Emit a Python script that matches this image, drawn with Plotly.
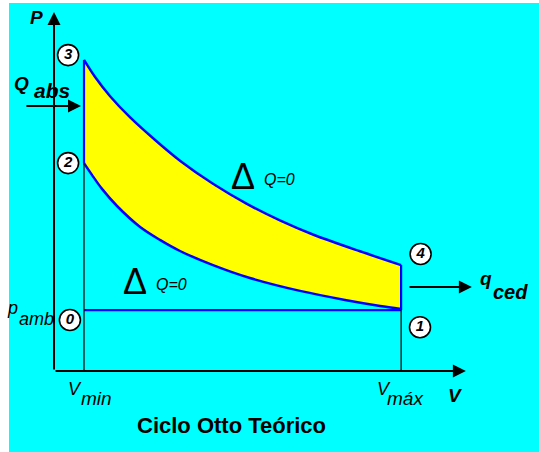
import plotly.graph_objects as go

# ---- data (V in units of V_min, P in arbitrary units) ----
V_upper = [1.00, 1.37, 1.87, 2.53, 3.37, 4.20, 5.30, 6.43, 7.53, 8.63, 10.20, 11.57]
P_upper = [10.37, 9.80, 9.16, 8.46, 7.70, 7.01, 6.24, 5.57, 5.02, 4.55, 3.99, 3.53]
V_lower = [1.00, 1.27, 1.60, 2.10, 2.87, 3.53, 4.20, 5.30, 6.53, 8.20, 9.70, 10.87, 11.57]
P_lower = [6.93, 6.53, 6.07, 5.50, 4.80, 4.37, 4.00, 3.53, 3.10, 2.67, 2.37, 2.17, 2.07]
P_amb = 2.03
point_labels = ["3", "2", "0", "4", "1"]
title_text = "Ciclo Otto Teórico"

V_min, V_max = V_lower[0], V_lower[-1]
P3, P2, P4 = P_upper[0], P_lower[0], P_upper[-1]

BLUE = "#0000ff"
FONT = "Liberation Sans, Arial, sans-serif"

fig = go.Figure()

# lower adiabat (compression 1-2)
fig.add_trace(go.Scatter(x=V_lower, y=P_lower, mode="lines",
                         line=dict(color=BLUE, width=2.5, shape="spline", smoothing=0.9),
                         hoverinfo="skip"))
# upper adiabat (expansion 3-4) with yellow area to lower
fig.add_trace(go.Scatter(x=V_upper, y=P_upper, mode="lines", fill="tonexty",
                         fillcolor="#ffff00",
                         line=dict(color=BLUE, width=2.5, shape="spline", smoothing=0.9),
                         hoverinfo="skip"))
# isochores and admission line
fig.add_trace(go.Scatter(x=[V_min, V_min, None, V_max, V_max, None, V_min, V_max],
                         y=[P2, P3, None, P_amb, P4, None, P_amb, P_amb],
                         mode="lines", line=dict(color=BLUE, width=2.2), hoverinfo="skip"))
# thin black guide lines down to V axis
fig.add_trace(go.Scatter(x=[V_min, V_min, None, V_max, V_max],
                         y=[0, P2, None, 0, P_amb],
                         mode="lines", line=dict(color="black", width=1.2), hoverinfo="skip"))

# numbered state circles
circ_x = [V_min - 0.53, V_min - 0.53, V_min - 0.47, V_max + 0.65, V_max + 0.63]
circ_y = [P3 + 0.16, P2, P_amb - 0.33, P4 + 0.37, P_amb - 0.57]
fig.add_trace(go.Scatter(x=circ_x, y=circ_y, mode="markers+text", text=point_labels,
                         textposition="middle center",
                         textfont=dict(family=FONT, size=15, color="black",
                                       style="italic", weight="bold"),
                         marker=dict(size=21, color="white", line=dict(color="black", width=1.6)),
                         hoverinfo="skip"))

ann = []
def arrow(x, y, ax, ay):
    ann.append(dict(x=x, y=y, ax=ax, ay=ay, xref="x", yref="y", axref="x", ayref="y",
                    text="", showarrow=True, arrowhead=2, arrowsize=1.3, arrowwidth=2,
                    arrowcolor="black"))

def label(x, y, t, size, bold=False, italic=True):
    ann.append(dict(x=x, y=y, xref="x", yref="y", text=t, showarrow=False,
                    xanchor="center", yanchor="middle", borderpad=0,
                    font=dict(family=FONT, size=size, color="black",
                              weight="bold" if bold else "normal",
                              style="italic" if italic else "normal")))

# axes
arrow(0, 11.97, 0, 0)
arrow(13.73, 0, 0, 0)
# heat arrows
arrow(0.9, 8.83, -0.97, 8.83)
arrow(13.93, 2.8, 11.8, 2.8)

# axis titles
label(-0.6, 11.8, "P", 19, bold=True)
label(13.37, -0.8, "V", 19, bold=True)
# heat labels
label(-1.07, 9.6, "Q", 19, bold=True)
label(-0.07, 9.35, "abs", 21, bold=True)
label(14.4, 3.07, "q", 19, bold=True)
label(15.2, 2.65, "ced", 20, bold=True)
# p_amb
label(-1.4, 2.1, "p", 18)
label(-0.58, 1.72, "amb", 18)
# volumes
label(V_min - 0.3, -0.6, "V", 18)
label(V_min + 0.4, -0.92, "min", 19)
label(V_max - 0.57, -0.6, "V", 18)
label(V_max + 0.13, -0.92, "máx", 19)
# adiabatic markers
label(6.3, 6.5, "Δ", 36, bold=False, italic=False)
label(7.53, 6.37, "Q=0", 16)
label(2.7, 3.0, "Δ", 36, bold=False, italic=False)
label(3.93, 2.9, "Q=0", 16)
# title
label(5.93, -1.82, title_text, 22, bold=True, italic=False)

fig.update_layout(
    width=539, height=452, autosize=False,
    margin=dict(l=9, r=0, t=3, b=0),
    paper_bgcolor="white", plot_bgcolor="#00ffff",
    showlegend=False,
    xaxis=dict(range=[-1.5, 16.1667], visible=False, fixedrange=True),
    yaxis=dict(range=[-2.7, 12.2667], visible=False, fixedrange=True),
    annotations=ann,
)

fig.write_html("out.html", config={"displayModeBar": False},
               post_script="document.body.style.margin='0';document.body.style.overflow='hidden';")
